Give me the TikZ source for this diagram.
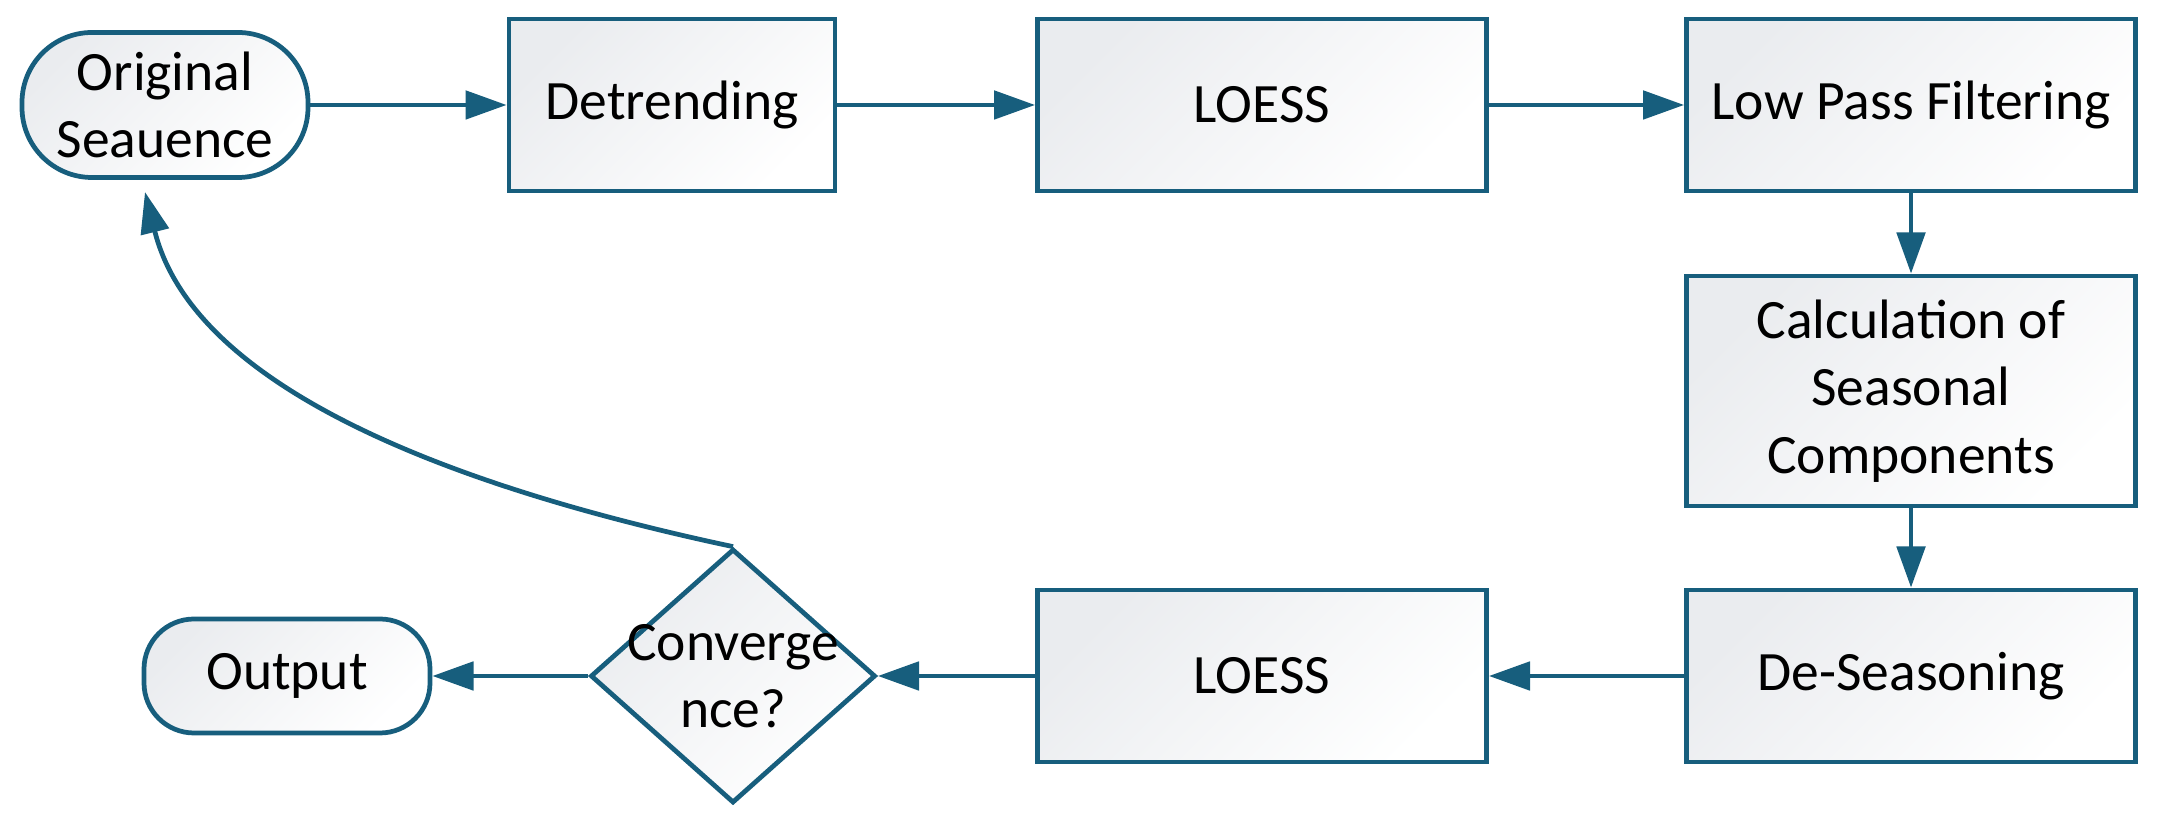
\documentclass[tikz,border=0pt]{standalone}
\usepackage{fontspec}
\setmainfont{Carlito}
\usetikzlibrary{shapes.geometric, arrows.meta}
\definecolor{stlblue}{RGB}{23,94,125}
\definecolor{stlfill}{RGB}{234,236,239}
\tikzset{>={Triangle[length=11.7pt,width=8pt]}}
\tikzset{
    stepbox/.style={draw=stlblue, line width=1.35pt, top color=stlfill, bottom color=white, shading angle=45,
        minimum width=4.49cm, minimum height=1.72cm, inner sep=0pt, align=center},
    termbox/.style={stepbox, minimum width=2.86cm},
    condbox/.style={stepbox, diamond, minimum width=2.85cm, minimum height=2.54cm, aspect=1.12},
    link/.style={->, stlblue, line width=1.35pt}
}
\begin{document}
\begin{tikzpicture}[font=\fontsize{15.8pt}{19.2pt}\selectfont]
    \useasboundingbox (0,0) rectangle (21.57,8.26);

    % top row
    \node[termbox, minimum height=1.45cm, rounded corners=0.7cm] (orig) at (1.65,7.21) {Original\\Seauence};
    \node[stepbox, minimum width=3.26cm] (detrend) at (6.72,7.21) {Detrending};
    \node[stepbox] (loessa) at (12.62,7.21) {LOESS};
    \node[stepbox] (lowpass) at (19.11,7.21) {Low Pass Filtering};

    % right column
    \node[stepbox, minimum height=2.30cm] (calc) at (19.11,4.35) {Calculation of\\Seasonal\\Components};
    \node[stepbox] (deseason) at (19.11,1.50) {De-Seasoning};

    % bottom row
    \node[stepbox] (loessb) at (12.62,1.50) {LOESS};
    \node[condbox, label={[align=center]center:Converge\\nce?}] (conv) at (7.33,1.50) {};
    \node[termbox, minimum height=1.14cm, rounded corners=0.5cm] (output) at (2.87,1.50) {Output};

    \coordinate (back) at (1.45,6.34);

    \draw[link] (orig) -- (detrend);
    \draw[link] (detrend) -- (loessa);
    \draw[link] (loessa) -- (lowpass);
    \draw[link] (lowpass) -- (calc);
    \draw[link] (calc) -- (deseason);
    \draw[link] (deseason) -- (loessb);
    \draw[link] (loessb) -- (conv);
    \draw[link] (conv) -- (output);
    \draw[link] (conv.north) to[out=168, in=-76, out looseness=1.09, in looseness=0.75] (back);
\end{tikzpicture}
\end{document}
